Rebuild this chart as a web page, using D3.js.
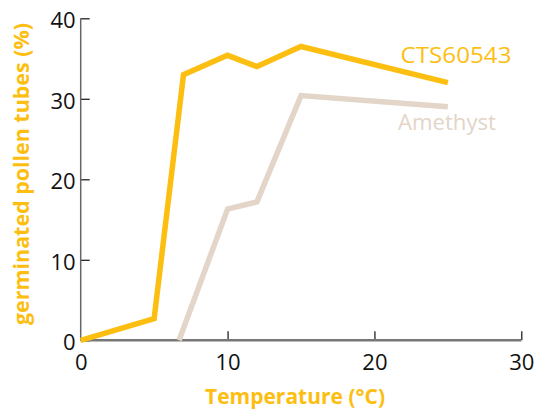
<!DOCTYPE html>
<html><head><meta charset="utf-8">
<script src="https://cdn.jsdelivr.net/npm/d3@7"></script>
<style>body{margin:0;background:#fff}svg{display:block}text{font-family:"Open Sans",Lato,sans-serif}</style>
</head><body>
<script>
const ctsTemp = [0, 5, 7, 10, 12, 15, 25];
const ctsValues = [0, 2.7, 33, 35.4, 34, 36.5, 32];
const ameTemp = [6.7, 10, 12, 15, 25];
const ameValues = [0, 16.3, 17.2, 30.4, 29];
const xTicks = [0, 10, 20, 30];
const yTicks = [0, 10, 20, 30, 40];
const seriesNames = ["CTS60543", "Amethyst"];

const W = 545, H = 410;
const orange = "#FDBE12", beige = "#E3D5C8";
const svg = d3.select("body").append("svg").attr("width", W).attr("height", H);
const x = d3.scaleLinear().domain([0, 30]).range([80.7, 521.3]);
const y = d3.scaleLinear().domain([0, 40]).range([340.3, 18.3]);

// y axis
const ya = svg.append("g").attr("transform", `translate(${x(0)},0)`)
  .call(d3.axisRight(y).tickValues(yTicks).tickSize(9).tickFormat(d3.format("d")));
ya.select(".domain").remove();
ya.selectAll(".tick line").attr("stroke", "#222").attr("stroke-width", 1.3);
ya.selectAll(".tick text").attr("x", -5).attr("text-anchor", "end")
  .attr("font-size", 22).attr("fill", "#111").attr("dy", "0.42em");
svg.append("line").attr("x1", x(0)).attr("x2", x(0)).attr("y1", y(40)).attr("y2", y(0))
  .attr("stroke", "#666").attr("stroke-width", 1.5);

// x axis
const xa = svg.append("g").attr("transform", `translate(0,${y(0)})`)
  .call(d3.axisTop(x).tickValues(xTicks).tickSize(9).tickFormat(d3.format("d")));
xa.select(".domain").remove();
xa.selectAll(".tick line").attr("stroke", "#222").attr("stroke-width", 1.3);
xa.selectAll(".tick").filter(d => d === 0).select("line").remove();
xa.selectAll(".tick text").attr("y", 29.5).attr("dy", 0)
  .attr("font-size", 22).attr("fill", "#111");
svg.append("line").attr("x1", x(0)).attr("x2", x(30)).attr("y1", y(0)).attr("y2", y(0))
  .attr("stroke", "#777").attr("stroke-width", 2.5);

const line = d3.line().x(d => x(d[0])).y(d => y(d[1]));
svg.append("path").datum(ameTemp.map((t, i) => [t, ameValues[i]]))
  .attr("d", line).attr("fill", "none").attr("stroke", beige).attr("stroke-width", 5.5)
  .attr("stroke-linejoin", "miter");
svg.append("path").datum(ctsTemp.map((t, i) => [t, ctsValues[i]]))
  .attr("d", line).attr("fill", "none").attr("stroke", orange).attr("stroke-width", 5.5)
  .attr("stroke-linejoin", "miter");

svg.append("text").attr("x", 400.5).attr("y", 63.3).attr("font-size", 21.5)
  .attr("textLength", 111).attr("lengthAdjust", "spacingAndGlyphs")
  .attr("fill", orange).text(seriesNames[0]);
svg.append("text").attr("x", 398).attr("y", 130).attr("font-size", 21.5)
  .attr("textLength", 98).attr("lengthAdjust", "spacingAndGlyphs")
  .attr("fill", beige).text(seriesNames[1]);

svg.append("text").attr("x", 205).attr("y", 404.3)
  .attr("textLength", 180).attr("lengthAdjust", "spacingAndGlyphs")
  .attr("font-size", 22).attr("font-weight", "bold").attr("fill", orange).text("Temperature (°C)");
svg.append("text").attr("transform", "translate(28.5,325) rotate(-90)")
  .attr("textLength", 302).attr("lengthAdjust", "spacingAndGlyphs")
  .attr("font-size", 21).attr("font-weight", "bold").attr("fill", orange).text("germinated pollen tubes (%)");
</script>
</body></html>
